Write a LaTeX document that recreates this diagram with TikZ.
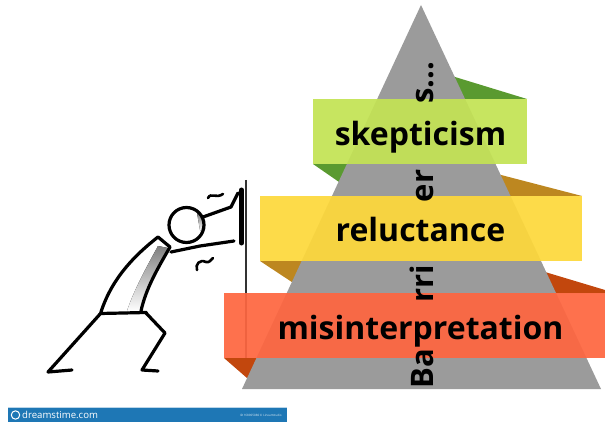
\documentclass[tikz,border=0pt]{standalone}
\usepackage{fontspec}
\setmainfont{Open Sans}
\begin{document}
\begin{tikzpicture}[x=1pt,y=-1pt,
  label/.style={font=\fontsize{32}{32}\selectfont\bfseries, text=black, inner sep=0pt, anchor=base},
  vlabel/.style={font=\fontsize{31}{31}\selectfont\bfseries, text=black, inner sep=0pt, rotate=90, anchor=base},
  band/.style={opacity=0.93},
  figline/.style={line width=3.2pt, line cap=round, line join=round, draw=black}]
\definecolor{pyr}{HTML}{9B9B9B}
\definecolor{lime}{HTML}{C3E354}
\definecolor{limedk}{HTML}{5A9A30}
\definecolor{gold}{HTML}{FDD83B}
\definecolor{golddk}{HTML}{BD8720}
\definecolor{flame}{HTML}{FE6640}
\definecolor{flamedk}{HTML}{C2470D}
\definecolor{shade}{HTML}{C8D5F0}
\definecolor{wmblue}{HTML}{1E77B5}
\useasboundingbox (0,0) rectangle (605,422);
\clip (0,0) rectangle (605,422);

% back faces of the bands, wrapping behind the pyramid
\fill[limedk] (313,164) -- (352,191) -- (365,164) -- cycle;
\fill[limedk] (527,99) -- (440,72.4) -- (440,99) -- cycle;
\fill[golddk] (260,261) -- (305,290.7) -- (320,261) -- cycle;
\fill[golddk] (582,196) -- (480,169.5) -- (480,196) -- cycle;
\fill[flamedk] (224,358) -- (255,385) -- (275,358) -- cycle;
\fill[flamedk] (615,293) -- (530,267.5) -- (530,293) -- cycle;

% pyramid
\fill[pyr] (421,5) -- (601,389) -- (242,389) -- cycle;

% stick figure pushing against a pole
\draw[line width=1.4pt, draw=black!80] (246,180) -- (246,358);
\fill[shade] (168,248) .. controls (158,268) and (146,288) .. (141,311)
  -- (127,311) .. controls (134,290) and (146,268) .. (158,246) -- cycle;
\fill[shade] (197,213) arc (-60:40:12) -- cycle;
\draw[figline] (186.5,225) circle (17.5);
\draw[figline] (158,237) .. controls (135,255) and (112,278) .. (101,312);
\draw[figline] (170,247) .. controls (158,268) and (146,288) .. (141,311);
\draw[figline] (100,313.5) -- (146.5,312.5);
\draw[figline] (158,237) -- (170,247);
% arms
\draw[figline] (203,217) -- (231,207) -- (238,193);
\draw[figline] (171,252) -- (200,246) -- (234,241);
\draw[line width=5pt, line cap=round] (241.5,190) -- (241.5,243);
% legs
\draw[figline] (101,313) -- (48,372) -- (72,370);
\draw[figline] (146,313) -- (165,333) -- (142,370) -- (158,371);
% motion marks
\draw[line width=2.6pt, line cap=round] (208,198) .. controls (211,192) and (216,199) .. (223,194);
\draw[line width=2.6pt, line cap=round] (197,270) .. controls (195,264) and (200,259) .. (206,262)
  .. controls (209,263) and (211,260) .. (213,258);

% bands
\fill[lime, band] (313,99) rectangle (527,164);
\fill[gold, band] (260,196) rectangle (582,261);
\fill[flame, band] (224,293) rectangle (612,358);

\node[label] (skep) at (420.5,146) {skepticism};
\node[label] (relu) at (420.5,241.5) {reluctance};
\node[label] (misi) at (420.5,339) {misinterpretation};

% vertical title, split around the bands
\node[vlabel] (t1) at (433,369) {Ba};
\node[vlabel] (t2) at (433,284) {rri};
\node[vlabel] (t3) at (433,186) {er};
\node[vlabel] (t4) at (433,83) {s...};

% stock watermark bar
\fill[wmblue] (8,407) rectangle (287,422);
\draw[white!70!wmblue, line width=0.8pt] (8,407.4) -- (287,407.4);
\draw[white, line width=1pt] (15.5,415) circle (4.2);
\node[font=\fontsize{9.6}{9.6}\selectfont, text=white, anchor=west, inner sep=0pt] (wm) at (22,415) {dreamstime.com};
\node[font=\fontsize{3}{3}\selectfont, text=white!85!wmblue, anchor=east, inner sep=0pt] (wmid) at (282,415) {ID 168905080 © Lineartstudio};
\end{tikzpicture}
\end{document}
